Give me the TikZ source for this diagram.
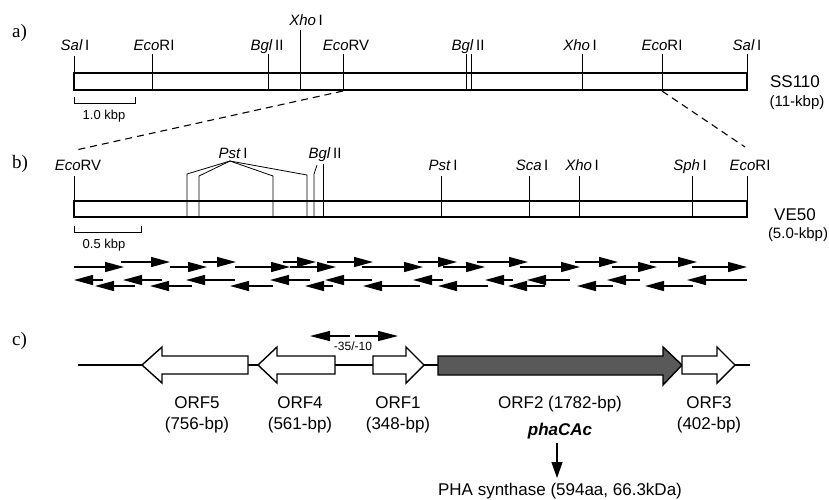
\documentclass[tikz,border=0pt]{standalone}
\usepackage{fontspec}
\setmainfont{Liberation Sans}
\newfontfamily\panelfont{Liberation Serif}
\usetikzlibrary{arrows.meta}
\begin{document}
\begin{tikzpicture}[x=1pt,y=-1pt,
  lbl/.style={font=\fontsize{15}{17}\selectfont, inner sep=0pt, anchor=base},
  small/.style={font=\fontsize{13}{15}\selectfont, inner sep=0pt, anchor=base},
  orf/.style={font=\fontsize{17}{19}\selectfont, inner sep=0pt, anchor=base},
  panel/.style={font=\panelfont\fontsize{19}{21}\selectfont, inner sep=0pt, anchor=base west},
  bar/.style={draw, line width=1.4pt},
  cut/.style={line width=0.8pt},
  scalebar/.style={line width=1pt},
  seq/.style={line width=1.3pt, -{Triangle[length=19pt,width=10pt]}},
  blk/.style={draw, line width=1.4pt, fill=white, line join=miter},
  zoomline/.style={dashed, dash pattern=on 7pt off 5pt, line width=1.1pt}
]
\useasboundingbox (0,0) rectangle (829,499);

% ---------------- panel a ----------------
\node[panel] (pa) at (12,37) {a)};
\draw[bar] (74,73) rectangle (747,90);
\node[lbl] (aS1) at (75,50) {\textit{Sal}\,I};
\node[lbl] (aE1) at (154,50) {\textit{Eco}RI};
\node[lbl] (aB1) at (267,50) {\textit{Bgl}\,II};
\node[lbl] (aX1) at (306,25) {\textit{Xho}\,I};
\node[lbl] (aEV) at (346,50) {\textit{Eco}RV};
\node[lbl] (aB2) at (468,50) {\textit{Bgl}\,II};
\node[lbl] (aX2) at (580,50) {\textit{Xho}\,I};
\node[lbl] (aE2) at (662,50) {\textit{Eco}RI};
\node[lbl] (aS2) at (747,50) {\textit{Sal}\,I};
\draw[cut] (74,56) -- (74,90);
\draw[cut] (152,54) -- (152,90);
\draw[cut] (268,54) -- (268,90);
\draw[cut] (300,30) -- (300,90);
\draw[cut] (343,54) -- (343,90);
\draw[cut] (466,54) -- (466,90);
\draw[cut] (471,54) -- (471,90);
\draw[cut] (582,54) -- (582,90);
\draw[cut] (662,54) -- (662,90);
\draw[cut] (747,54) -- (747,90);
\draw[scalebar] (74,97) -- (74,103) -- (135,103) -- (135,97);
\node[small] (sa) at (104,119) {1.0 kbp};
\node[lbl, font=\fontsize{17}{19}\selectfont] (ss) at (795,87) {SS110};
\node[lbl] (ssk) at (797,106) {(11-kbp)};

% dashed zoom lines
\coordinate (za1) at (343,91);
\coordinate (za2) at (662,91);
\coordinate (zb1) at (76,150);
\coordinate (zb2) at (745,147);
\draw[zoomline] (za1) -- (zb1);
\draw[zoomline] (za2) -- (zb2);

% ---------------- panel b ----------------
\node[panel] (pb) at (12,168) {b)};
\draw[bar] (74,201) rectangle (747,217);
\node[lbl] (bEV) at (78,170) {\textit{Eco}RV};
\node[lbl] (bP1) at (233,158) {\textit{Pst}\,I};
\node[lbl] (bB) at (325,158) {\textit{Bgl}\,II};
\node[lbl] (bP2) at (443,170) {\textit{Pst}\,I};
\node[lbl] (bSc) at (532,170) {\textit{Sca}\,I};
\node[lbl] (bX) at (582,170) {\textit{Xho}\,I};
\node[lbl] (bSp) at (690,170) {\textit{Sph}\,I};
\node[lbl] (bE) at (750,170) {\textit{Eco}RI};
\coordinate (pv) at (230,161);
\draw[cut] (74,176) -- (74,217);
\draw[cut] (187,217) -- (187,174) -- (pv);
\draw[cut] (199,217) -- (199,176) -- (pv);
\draw[cut] (273,217) -- (273,176) -- (pv);
\draw[cut] (307,217) -- (307,175) -- (pv);
\draw[cut] (314,217) -- (314,174) -- (317,165);
\draw[cut] (323,217) -- (323,164);
\draw[cut] (441,176) -- (441,217);
\draw[cut] (529,176) -- (529,217);
\draw[cut] (579,176) -- (579,217);
\draw[cut] (692,176) -- (692,217);
\draw[cut] (747,176) -- (747,217);
\draw[scalebar] (74,226) -- (74,232) -- (141,232) -- (141,226);
\node[small] (sb) at (104,248) {0.5 kbp};
\node[lbl, font=\fontsize{17}{19}\selectfont] (ve) at (795,220) {VE50};
\node[lbl] (vek) at (798,238) {(5.0-kbp)};

% sequencing arrows: forward
\foreach \a/\b/\y in {74/124/267, 121/170/262, 170/207/267, 203/236/262, 235/290/267,
  283/316/262, 290/336/267, 327/373/262, 362/423/267, 418/457/262, 443/485/267,
  477/528/262, 520/580/267, 575/618/262, 612/657/267, 650/697/262, 692/747/267}
  \draw[seq] (\a,\y) -- (\b,\y);
% reverse
\foreach \a/\b/\y in {103/74/280, 162/123/280, 235/186/280, 310/270/280, 372/325/280,
  443/413/280, 513/485/280, 570/527/280, 640/607/280, 747/687/280,
  135/95/286, 192/150/286, 273/230/286, 333/305/286, 420/363/286, 488/438/286,
  545/508/286, 613/577/286, 693/645/286}
  \draw[seq] (\a,\y) -- (\b,\y);

% ---------------- panel c ----------------
\node[panel] (pc) at (12,345) {c)};
\coordinate (c0) at (78,365);
\coordinate (c9) at (750,365);
\draw[line width=1.1pt] (c0) -- (c9);
% ORF5
\draw[blk] (142,365) -- (162,347) -- (162,356) -- (248,356) -- (248,374) -- (162,374) -- (162,383) -- cycle;
% ORF4
\draw[blk] (258,365) -- (277,347) -- (277,356) -- (335,356) -- (335,374) -- (277,374) -- (277,383) -- cycle;
% ORF1
\draw[blk] (424,365) -- (406,347) -- (406,356) -- (373,356) -- (373,374) -- (406,374) -- (406,383) -- cycle;
% ORF2
\draw[blk, fill=black!65] (682,365) -- (663,347) -- (663,356) -- (438,356) -- (438,375) -- (663,375) -- (663,385) -- cycle;
% ORF3
\draw[blk] (735,365) -- (717,347) -- (717,356) -- (682,356) -- (682,374) -- (717,374) -- (717,383) -- cycle;

% promoter arrows
\coordinate (pl) at (350,336);
\coordinate (pr) at (355,336);
\draw[line width=1.3pt, -{Triangle[length=20pt,width=10pt]}] (pl) -- (310,336);
\draw[line width=1.3pt, -{Triangle[length=20pt,width=10pt]}] (pr) -- (398,336);
\node[small, font=\fontsize{12}{14}\selectfont] (pt) at (353,350) {-35/-10};

\node[orf] (o5) at (197,408) {ORF5};
\node[orf] (o5b) at (197,429) {(756-bp)};
\node[orf] (o4) at (300,408) {ORF4};
\node[orf] (o4b) at (300,429) {(561-bp)};
\node[orf] (o1) at (398,408) {ORF1};
\node[orf] (o1b) at (398,429) {(348-bp)};
\node[orf] (o2) at (560,408) {ORF2 (1782-bp)};
\node[orf] (o3) at (709,408) {ORF3};
\node[orf] (o3b) at (709,429) {(402-bp)};
\node[orf, font=\bfseries\itshape\fontsize{17}{19}\selectfont] (gene) at (560,435) {phaCAc};
\node[orf] (prot) at (560,495) {PHA synthase (594aa, 66.3kDa)};
\draw[line width=1.2pt, -{Triangle[length=16pt,width=11pt]}] (557,443) -- (557,478);
\end{tikzpicture}
\end{document}
